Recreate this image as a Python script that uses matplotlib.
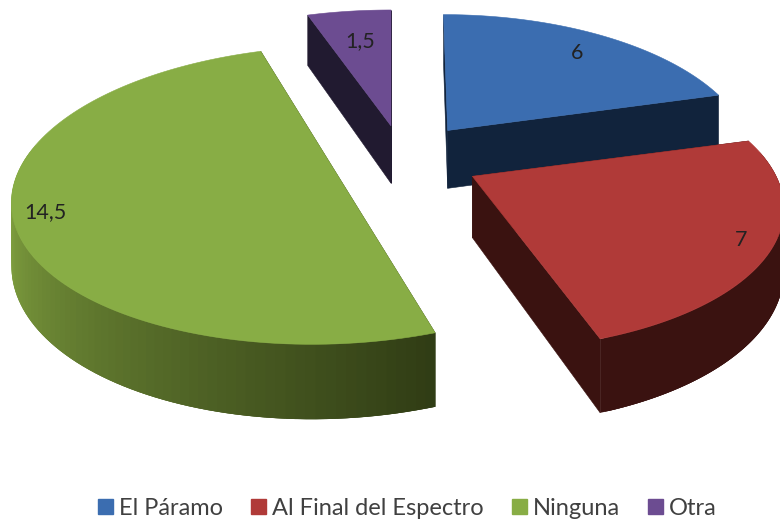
#!/usr/bin/env python3
"""Exploded 3D-look pie chart, drawn as projected polygons."""

import numpy as np
import matplotlib
matplotlib.use('Agg')
import matplotlib.pyplot as plt
from matplotlib.patches import Polygon, Patch
from matplotlib.colors import to_rgb

labels = ['El Páramo', 'Al Final del Espectro', 'Ninguna', 'Otra']
values = [6, 7, 14.5, 1.5]
value_text = ['6', '7', '14,5', '1,5']

top_colors = ['#3b6db0', '#b03a38', '#88ad45', '#6c4c91']
wall_colors = ['#11233c', '#3a1210', '#2f3b14', '#211a30']
side_light = ['#11233c', '#3a1210', '#7f9f3f', '#211a30']

# look of the fake 3D
CX, CY = 403, 158
RX, RY = 310, 139
PERSP = 0.2
DEPTH = 60
EXPLODE = 0.23
label_pos = [(37, 0.78), (118, 0.9), (250, 0.92), (350.7, 0.7)]  # angle, radius

# small per-slice corrections: shift x, shift y, x scale, y scale, shear
slice_fit = [(3, -3, 0.96, 1.0, 0.035),
             (5, 3, 0.98, 1.0, 0.05),
             (-3, -3, 1.0, 1.03, -0.11),
             (-1, -2, 1.0, 1.0, 0.0)]


def project(u, v):
    w = 1 + PERSP * v
    return RX * u / w, -RY * v / w, DEPTH / w


def add_poly(ax, pts, color, zorder):
    ax.add_patch(Polygon(pts, closed=True, facecolor=color, edgecolor=color,
                         linewidth=0.4, zorder=zorder))


fig = plt.figure(figsize=(7.8, 5.27), dpi=100)
ax = fig.add_axes([0, 0, 1, 1])
ax.set_xlim(0, 780)
ax.set_ylim(527, 0)
ax.axis('off')

edges = np.concatenate([[0], np.cumsum(values)]) / np.sum(values) * 360
order = [3, 0, 2, 1]  # back to front

for layer, i in enumerate(order):
    start, stop = edges[i], edges[i + 1]
    mid = np.radians((start + stop) / 2)
    ou, ov = EXPLODE * np.sin(mid), EXPLODE * np.cos(mid)
    dx, dy, _ = project(ou, ov)
    shift_x, shift_y, scale_x, scale_y, shear = slice_fit[i]
    vx, vy = CX + dx + shift_x, CY + dy + shift_y
    _, _, vdepth = project(0, ov)

    t = np.radians(np.linspace(start, stop, 121))
    su, sv = np.sin(t), np.cos(t)
    x, y, d = project(su, sv)
    y = y * scale_y
    x = vx + x * scale_x + shear * y
    y = vy + y
    z = 10 * layer

    # flat walls along both radii
    for k in (0, -1):
        wall = [(vx, vy), (x[k], y[k]), (x[k], y[k] + d[k]), (vx, vy + vdepth)]
        add_poly(ax, wall, wall_colors[i], z)

    # outer wall in overlapping strips so it can shade without seams
    light = np.array(to_rgb(side_light[i]))
    dark = np.array(to_rgb(wall_colors[i]))
    n = len(t)
    for k in range(n - 1, 0, -1):
        if sv[k] >= 0.15:
            continue
        frac = (t[k] - t[0]) / (t[-1] - t[0])
        col = dark + (light - dark) * min(frac / 0.52, 1)
        k2 = max(k - 3, 0)
        strip = [(x[k], y[k]), (x[k2], y[k2]), (x[k2], y[k2] + d[k2]), (x[k], y[k] + d[k])]
        ax.add_patch(Polygon(strip, closed=True, facecolor=tuple(col), edgecolor='none',
                             zorder=z + 1))

    # top face
    top = np.column_stack([np.r_[vx, x], np.r_[vy, y]])
    add_poly(ax, top, top_colors[i], z + 2)

    # value label
    ang, r = label_pos[i]
    lx, ly, _ = project(r * np.sin(np.radians(ang)), r * np.cos(np.radians(ang)))
    ax.text(vx + lx, vy + ly, value_text[i], ha='center', va='center',
            fontsize=15.5, family='Lato', color='#222222', zorder=100)

handles = [Patch(facecolor=c, edgecolor=c) for c in top_colors]
fig.legend(handles, labels, loc='lower center', bbox_to_anchor=(0.522, -0.025), ncol=4,
           frameon=False, prop={'family': 'Lato', 'size': 17},
           labelcolor='#404040', handlelength=0.63, handleheight=0.6,
           handletextpad=0.25, columnspacing=1.2)

fig.savefig('out.png', dpi=100)
